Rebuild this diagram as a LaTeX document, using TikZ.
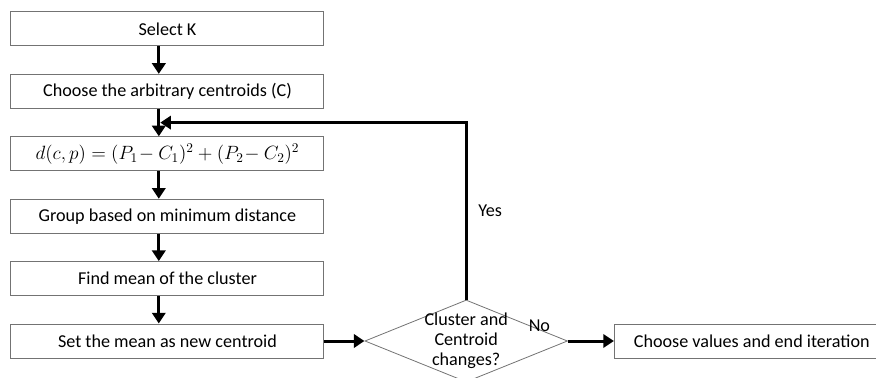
\documentclass[tikz,border=0pt]{standalone}
\usepackage{fontspec}
\setmainfont{Carlito}
\usetikzlibrary{arrows.meta,positioning,shapes.geometric}

\begin{document}
\begin{tikzpicture}[
  box/.style    = {draw=black!55, line width=0.75pt, minimum width=234.75pt,
                   minimum height=25.5pt, align=center, inner sep=0pt,
                   font=\fontsize{13.6}{15}\selectfont},
  decide/.style = {diamond, draw=black!55, line width=0.6pt, aspect=2.47,
                   inner sep=-4pt, minimum width=152pt, minimum height=61.5pt,
                   align=center, font=\fontsize{13.6}{15}\selectfont},
  lbl/.style    = {inner sep=0pt, font=\fontsize{13.6}{15}\selectfont},
  arr/.style    = {-{Triangle[length=8pt,width=10pt]}, line width=2.25pt},
  node distance = 20.55pt,
]
\useasboundingbox (0,0) rectangle (657pt,-283.5pt);

\node[box] (selk) at (125.6pt,-21.75pt) {Select K};

\node[box, below=of selk] (cent) {Choose the arbitrary centroids (C)};
\draw[arr] ([xshift=-6.5pt]selk.south) -- ([xshift=-6.5pt]cent.north);

\node[box, below=of cent] (dist) {$d(c,p) = (P_1\!- C_1)^2 + (P_2\!- C_2)^2$};
\draw[arr] ([xshift=-6.5pt]cent.south) -- ([xshift=-6.5pt]dist.north);

\node[box, below=of dist] (grp) {Group based on minimum distance};
\draw[arr] ([xshift=-6.5pt]dist.south) -- ([xshift=-6.5pt]grp.north);

\node[box, below=of grp] (mean) {Find mean of the cluster};
\draw[arr] ([xshift=-6.5pt]grp.south) -- ([xshift=-6.5pt]mean.north);

\node[box, below=of mean] (newc) {Set the mean as new centroid};
\draw[arr] ([xshift=-6.5pt]mean.south) -- ([xshift=-6.5pt]newc.north);

\node[decide, right=30pt of newc] (dec) {Cluster and\\Centroid\\changes?};
\draw[arr] (newc.east) -- (dec.west);

\node[box, minimum width=206pt, right=34.5pt of dec] (fin) {Choose values and end iteration};
\node[lbl] (no) at ([xshift=-21.4pt,yshift=11.25pt]dec.east) {No};
\draw[arr] (dec.east) -- (fin.west);

% back to the distance step
\coordinate (join) at ([xshift=-5.4pt,yshift=-10.3pt]cent.south);
\draw[arr] (dec.north) |- node[lbl, pos=0.25, right=8pt] (yes) {Yes} (join);

\end{tikzpicture}
\end{document}
